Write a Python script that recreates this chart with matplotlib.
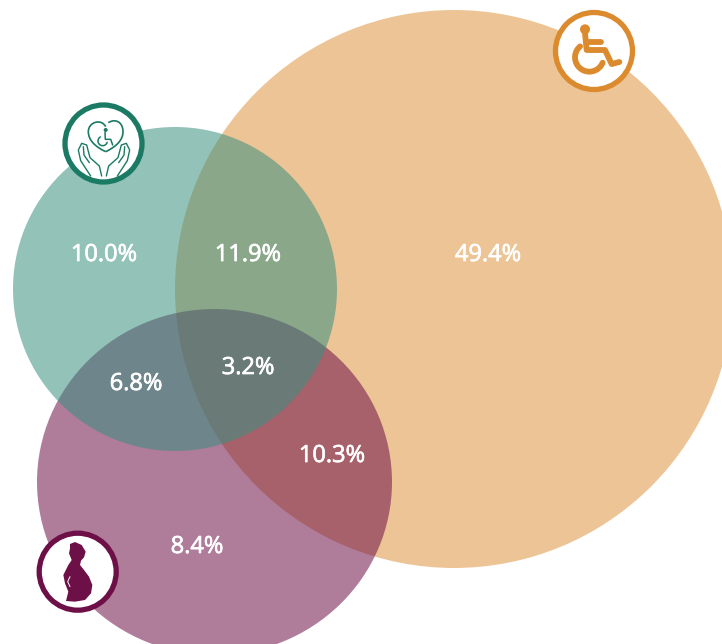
import matplotlib.pyplot as plt
import matplotlib.patheffects as pe
from matplotlib.patches import Circle, Ellipse, PathPatch, Polygon
from matplotlib.path import Path
import numpy as np

# share of each region of the diagram, in percent
values = [49.4, 11.9, 10.0, 3.2, 6.8, 10.3, 8.4]
label_x = [488, 248, 104, 248, 136, 332, 197]
label_y = [255, 255, 255, 368, 384, 456, 547]

orange = '#DB8B2E'
teal = '#3A9080'
purple = '#6E1048'
dark_teal = '#1B7A64'

fig = plt.figure(figsize=(7.22, 6.44), dpi=100)
ax = fig.add_axes([0, 0, 1, 1])
ax.set_xlim(0, 722)
ax.set_ylim(644, 0)
ax.axis('off')

ax.add_patch(Circle((454, 289), 279, color=orange, alpha=0.5, lw=0))
ax.add_patch(Ellipse((214.5, 482), 355, 346, color=purple, alpha=0.55, lw=0))
ax.add_patch(Circle((175, 289), 162, color=teal, alpha=0.55, lw=0))

for x, y, v in zip(label_x, label_y, values):
    ax.text(x, y, f'{v:.1f}%', color='white', fontsize=17, family='Open Sans',
            ha='center', va='center', zorder=5,
            path_effects=[pe.withStroke(linewidth=0.5, foreground='white')])


def to_px(pts, x0, y0):
    ''' zoomed crop coordinates (3x) to picture pixels '''
    pts = np.array(pts, dtype=float)
    return pts / 3 + [x0, y0]


def stroke(pts, x0, y0, color, lw):
    pts = to_px(pts, x0, y0)
    ax.plot(pts[:, 0], pts[:, 1], color=color, lw=lw, solid_capstyle='round',
            solid_joinstyle='round', zorder=7)


def arc(cx, cy, r, start, end):
    t = np.radians(np.arange(start, end, 8))
    return [(cx + r * np.cos(a), cy - r * np.sin(a)) for a in t]


def badge(x, y, color):
    ax.add_patch(Circle((x, y), 38.5, facecolor='white', edgecolor=color, lw=3.8, zorder=6))


# wheelchair badge
badge(594, 51, orange)
x0, y0 = 530, 0
ax.add_patch(Circle(to_px([165, 88], x0, y0), 5, color=orange, lw=0, zorder=7))
stroke([(165, 100), (170, 150), (225, 150), (245, 192), (268, 186)], x0, y0, orange, 4.2)
stroke([(170, 127), (213, 127)], x0, y0, orange, 4.2)
stroke(arc(178, 172, 43, 130, 345), x0, y0, orange, 4.2)

# care badge (hands round a heart)
badge(103.5, 143.5, dark_teal)
x0, y0 = 40, 90
heart = to_px([(197, 185), (165, 170), (145, 150), (145, 125), (145, 95), (185, 85), (197, 110)], x0, y0)
heart2 = to_px([(197, 185), (229, 170), (249, 150), (249, 125), (249, 95), (225, 85), (205, 98)], x0, y0)
codes = [Path.MOVETO] + [Path.CURVE4] * 6
ax.add_patch(PathPatch(Path(heart, codes), fill=False, edgecolor=dark_teal, lw=1.2, zorder=7))
ax.add_patch(PathPatch(Path(heart2, codes), fill=False, edgecolor=dark_teal, lw=1.2, zorder=7))
ax.add_patch(Circle(to_px([197, 120], x0, y0), 2, color=dark_teal, lw=0, zorder=7))
stroke([(195, 127), (196, 148), (212, 148), (218, 165)], x0, y0, dark_teal, 1.1)
stroke(arc(188, 153, 14, 120, 345), x0, y0, dark_teal, 1.1)
hand = [(185, 258), (178, 228), (150, 203), (140, 165), (125, 160), (115, 180), (122, 212), (152, 258)]
finger = [(130, 170), (132, 195), (148, 218)]
stroke(hand, x0, y0, dark_teal, 1.0)
stroke(finger, x0, y0, dark_teal, 1.0)
stroke([(2 * 192 - a, b) for a, b in hand], x0, y0, dark_teal, 1.0)
stroke([(2 * 192 - a, b) for a, b in finger], x0, y0, dark_teal, 1.0)

# pregnancy badge
badge(77.7, 571.7, purple)
x0, y0 = 20, 520
body = [(150, 72), (165, 66), (185, 75), (197, 95), (192, 112), (183, 122), (180, 135), (192, 150),
        (207, 170), (217, 195), (213, 220), (195, 240), (165, 245), (138, 243), (145, 215),
        (135, 190), (130, 165), (145, 135), (155, 120), (147, 100), (150, 85)]
ax.add_patch(Polygon(to_px(body, x0, y0), closed=True, color=purple, lw=0, zorder=7))
stroke([(150, 170), (143, 185), (150, 200)], x0, y0, 'white', 0.7)

fig.savefig('out.png', dpi=100)
